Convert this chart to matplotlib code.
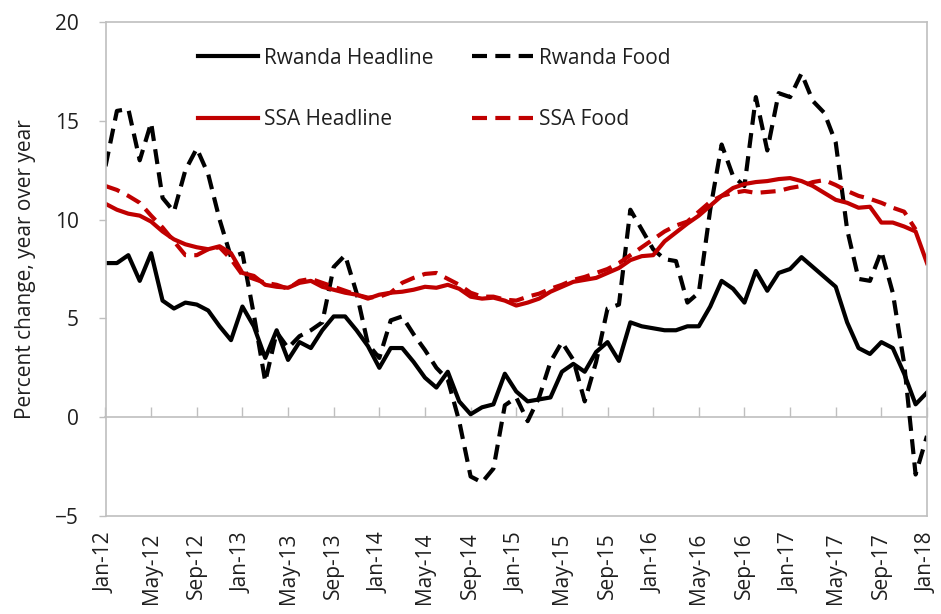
import numpy as np
import matplotlib
matplotlib.use("Agg")
import matplotlib.pyplot as plt

plt.rcParams['font.family'] = ['Open Sans', 'DejaVu Sans']

# Monthly data, Jan-12 .. Jan-18 (73 months)
n_months = 73
tick_labels = ["Jan-12", "May-12", "Sep-12", "Jan-13", "May-13", "Sep-13",
               "Jan-14", "May-14", "Sep-14", "Jan-15", "May-15", "Sep-15",
               "Jan-16", "May-16", "Sep-16", "Jan-17", "May-17", "Sep-17", "Jan-18"]

rwanda_headline = [7.8, 7.8, 8.2, 6.9, 8.3, 5.9, 5.5, 5.8, 5.7, 5.4, 4.6, 3.9,
                   5.6, 4.6, 3.0, 4.4, 2.9, 3.8, 3.5, 4.4, 5.1, 5.1, 4.4, 3.6,
                   2.5, 3.5, 3.5, 2.8, 2.0, 1.5, 2.3, 0.8, 0.15, 0.5, 0.65, 2.2,
                   1.3, 0.8, 0.9, 1.0, 2.3, 2.7, 2.3, 3.3, 3.8, 2.85, 4.8, 4.6,
                   4.5, 4.4, 4.4, 4.6, 4.6, 5.6, 6.9, 6.5, 5.8, 7.4, 6.4, 7.3,
                   7.5, 8.1, 7.6, 7.1, 6.6, 4.8, 3.5, 3.2, 3.8, 3.5, 2.2, 0.65,
                   1.25]

rwanda_food = [12.7, 15.5, 15.6, 13.0, 14.9, 11.1, 10.4, 12.5, 13.6, 12.3, 10.0, 8.1,
               8.3, 5.2, 1.8, 4.3, 3.5, 4.1, 4.4, 4.8, 7.6, 8.2, 6.3, 3.7,
               3.0, 4.9, 5.1, 4.2, 3.4, 2.5, 1.9, -0.2, -3.0, -3.3, -2.6, 0.6,
               1.0, -0.2, 1.0, 2.8, 3.8, 2.9, 0.8, 2.8, 5.5, 5.7, 10.5, 9.5,
               8.5, 8.0, 7.9, 5.8, 6.3, 10.5, 13.8, 12.2, 11.7, 16.2, 13.5, 16.4,
               16.2, 17.4, 16.0, 15.4, 13.9, 9.5, 7.0, 6.9, 8.4, 6.3, 2.7, -2.9,
               -0.95]

ssa_headline = [10.8, 10.5, 10.3, 10.2, 9.9, 9.4, 9.0, 8.75, 8.6, 8.5, 8.65, 8.3,
                7.3, 7.15, 6.7, 6.6, 6.55, 6.8, 6.9, 6.6, 6.45, 6.3, 6.2, 6.0,
                6.2, 6.3, 6.35, 6.45, 6.6, 6.55, 6.7, 6.5, 6.1, 6.0, 6.05, 5.9,
                5.65, 5.8, 6.0, 6.35, 6.6, 6.85, 6.95, 7.05, 7.3, 7.55, 7.95, 8.15,
                8.2, 8.9, 9.35, 9.8, 10.2, 10.7, 11.2, 11.6, 11.8, 11.9, 11.95, 12.05,
                12.1, 11.95, 11.7, 11.35, 11.0, 10.85, 10.6, 10.65, 9.85, 9.85, 9.65, 9.4,
                7.8]

ssa_food = [11.7, 11.5, 11.2, 10.85, 10.2, 9.6, 8.9, 8.2, 8.2, 8.5, 8.6, 8.0,
            7.2, 7.0, 6.8, 6.7, 6.5, 6.9, 7.0, 6.8, 6.6, 6.4, 6.2, 6.05,
            6.1, 6.3, 6.8, 7.05, 7.25, 7.3, 7.0, 6.7, 6.3, 6.1, 6.1, 5.95,
            5.9, 6.1, 6.25, 6.5, 6.7, 6.95, 7.1, 7.3, 7.5, 7.8, 8.2, 8.6,
            9.0, 9.4, 9.7, 9.9, 10.4, 10.9, 11.2, 11.35, 11.45, 11.35, 11.4, 11.45,
            11.6, 11.7, 11.9, 12.0, 11.75, 11.45, 11.2, 11.05, 10.85, 10.6, 10.4, 9.5,
            np.nan]

x = np.arange(n_months)
tick_pos = np.arange(0, n_months, 4)

RED = '#C00000'
TXT = '#1f1f1f'
GRID = '#BFBFBF'

fig = plt.figure(figsize=(9.41, 6.14), dpi=100)
ax = fig.add_axes([105.5 / 941, 1 - 516 / 614, (927 - 105.5) / 941, (516 - 22) / 614])

lw = 3.0
dash = (3.6, 2.0)
l1, = ax.plot(x, rwanda_headline, color='black', lw=lw, label='Rwanda Headline')
l2, = ax.plot(x, rwanda_food, color='black', lw=lw, ls=(0, dash), label='Rwanda Food')
l3, = ax.plot(x, ssa_headline, color=RED, lw=lw, label='SSA Headline')
l4, = ax.plot(x, ssa_food, color=RED, lw=lw, ls=(0, dash), label='SSA Food')

ax.set_xlim(0, n_months - 1)
ax.set_ylim(-5, 20)
ax.set_yticks([-5, 0, 5, 10, 15, 20])
ax.set_xticks(tick_pos)
ax.set_xticklabels(tick_labels, rotation=90, fontsize=15, color=TXT)
ax.tick_params(axis='x', length=0, pad=12)
ax.tick_params(axis='y', length=5, width=1, color=GRID, labelsize=15,
               labelcolor=TXT, pad=14)

for s in ax.spines.values():
    s.set_color(GRID)
    s.set_linewidth(1.2)

# category axis crossing at zero
sec = ax.secondary_xaxis(0.2)
sec.set_xticks(tick_pos)
sec.set_xticklabels([])
sec.tick_params(axis='x', direction='in', length=7, width=1, color=GRID)
sec.spines['bottom'].set_color(GRID)
sec.spines['bottom'].set_linewidth(1.2)

ax.set_ylabel('Percent change, year over year', fontsize=15, color=TXT, labelpad=14)

leg = ax.legend(handles=[l1, l3, l2, l4], ncol=2, loc='upper left',
                bbox_to_anchor=(0.112, 0.948), frameon=False, fontsize=15,
                handlelength=2.9, handletextpad=0.3, labelspacing=1.95,
                columnspacing=1.85, borderpad=0, borderaxespad=0)
for t in leg.get_texts():
    t.set_color(TXT)

fig.savefig('out.png', dpi=100)
